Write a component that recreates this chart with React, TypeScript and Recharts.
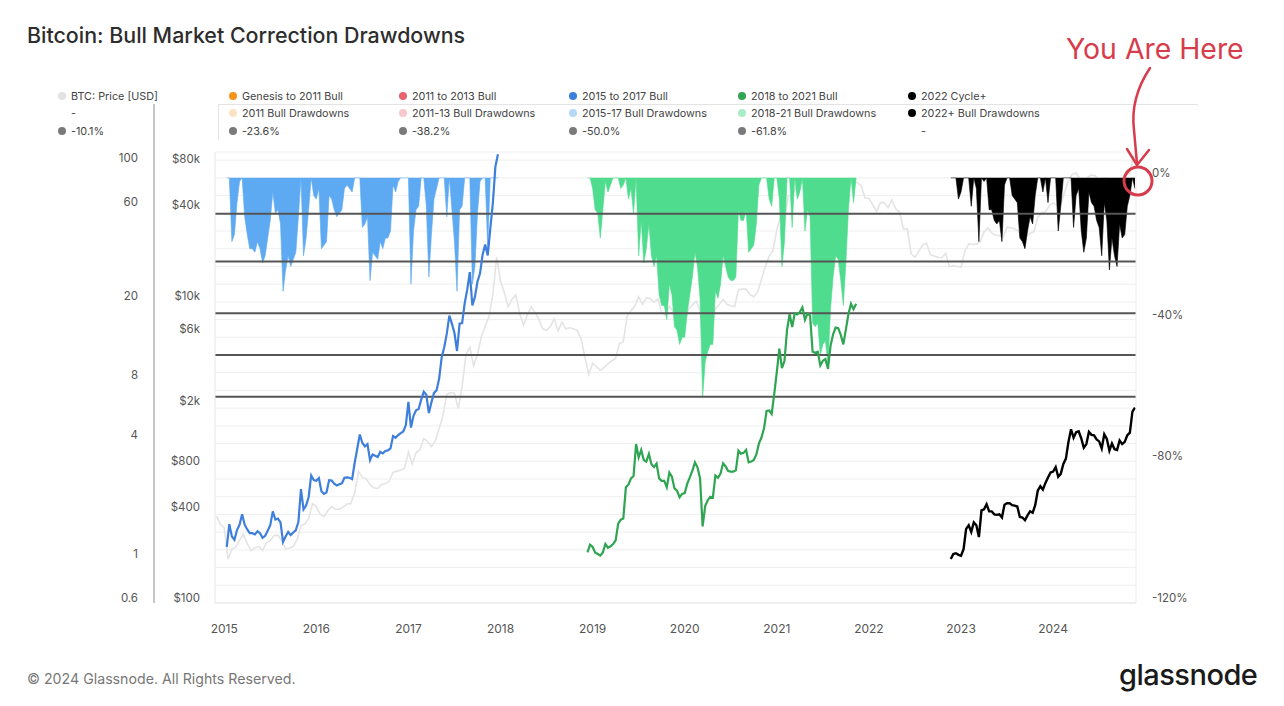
import React from 'react';
import { ComposedChart, Line, Area, XAxis, YAxis, ReferenceLine, CartesianGrid } from 'recharts';

// cycle series are sampled on the 1st / 11th / 21st of each month, price on the 1st / 16th
const STEP = 1 / 36;
const PRICE_STEP = 1 / 24;

const yearTicks = [2015, 2016, 2017, 2018, 2019, 2020, 2021, 2022, 2023, 2024];
const multTicks = [0.6, 1, 4, 8, 20, 60, 100];
const priceTicks = [100, 400, 800, 2000, 6000, 10000, 40000, 80000];
const ddLabels = [0, -40, -80, -120];
const fibLevels = [-10.1, -23.6, -38.2, -50.0, -61.8];
const gridLevels = [5, 0, -5, -10, -15, -20, -25, -30, -35, -40, -45, -50, -55, -60, -65, -70, -75, -80, -85, -90, -95, -100, -105, -110, -115, -120];

// BTC price, USD (Dec 2014 -> Nov 2024)
const priceStart = 2014 + 11 / 12;
const btcPrice = [
  375, 330,
  315, 195, 227, 234, 260, 285, 247, 222, 232, 237, 223, 250, 258, 279, 281, 257, 228, 230, 237, 262, 325, 332, 362, 454,
  434, 387, 372, 407, 435, 416, 417, 430, 452, 454, 536, 740, 677, 664, 606, 578, 572, 608, 615, 640, 730, 745, 756, 780,
  998, 830, 985, 1035, 1222, 1170, 1080, 1180, 1420, 1730, 2400, 2460, 2430, 1930, 2720, 4380, 4900, 3700, 4400, 5750, 6750, 7850, 10900, 19400,
  13400, 11300, 9100, 10200, 10900, 8200, 6850, 8050, 9100, 8350, 7500, 6500, 6350, 6750, 7600, 6300, 7200, 6500, 6600, 6500, 6350, 5600, 4200, 3250,
  3850, 3650, 3450, 3620, 3820, 4000, 4150, 5200, 5350, 7900, 8550, 9200, 10600, 9450, 10400, 10300, 9750, 10250, 8300, 8000, 9150, 8500, 7400, 6900,
  7200, 8750, 9350, 9900, 8600, 5000, 6600, 7100, 8850, 9400, 10200, 9450, 9230, 9130, 11800, 11900, 11900, 10950, 10600, 11350, 13800, 16700, 19700, 21300,
  29400, 36000, 33500, 49200, 49600, 56000, 59000, 61300, 57800, 46400, 36700, 38100, 33500, 31800, 39800, 45900, 48800, 47800, 48100, 60900, 61000, 60100, 57200, 47600,
  47300, 43100, 38700, 44500, 44400, 41100, 46300, 40400, 38500, 29800, 29800, 20400, 19300, 21200, 23300, 23900, 20100, 19700, 19300, 19200, 20500, 16700, 17000, 16800,
  16600, 21100, 23700, 23500, 23600, 24400, 28400, 30300, 28000, 27000, 26800, 26300, 30600, 30300, 29700, 28700, 25900, 26600, 27900, 28500, 35400, 37900, 38700, 42300,
  44200, 42600, 43100, 52100, 62400, 68400, 69700, 63400, 58300, 65200, 67700, 66600, 62700, 64800, 64600, 58900, 57300, 58200, 60800, 67600, 69500, 91000,
];

// 2015 to 2017 bull: price multiple from cycle low, drawdown %
const blueStart = 2015 + 1 / 36;
const blueMult = [
  1.15, 1.50, 1.30, 1.25, 1.40, 1.49, 1.68, 1.49, 1.41, 1.35, 1.35, 1.33, 1.38, 1.35, 1.28, 1.31, 1.39, 1.48, 1.74, 1.58, 1.60, 1.53, 1.22, 1.30, 1.37, 1.32, 1.36, 1.40, 1.54, 2.25, 1.78, 1.86, 2.05, 2.64, 2.50,
  2.48, 2.56, 2.20, 2.13, 2.17, 2.50, 2.49, 2.40, 2.35, 2.38, 2.41, 2.57, 2.58, 2.57, 2.53, 3.06, 3.60, 4.25, 3.85, 3.70, 3.80, 3.15, 3.37, 3.32, 3.27, 3.47, 3.41, 3.51, 3.53, 3.61, 4.17, 4.09, 4.22, 4.32, 4.40, 4.74,
  6.20, 4.60, 5.28, 5.63, 5.71, 6.37, 6.98, 6.74, 5.45, 6.17, 6.89, 7.09, 8.11, 10.4, 11.7, 13.7, 16.9, 15.4, 13.8, 11.2, 15.4, 15.5, 19.5, 22.9, 28.0, 19.0, 21.0, 25.1, 27.6, 34.3, 38.6, 34.0, 46.3, 62.3, 95.4, 110,
];
const blueDd = [
  0, 0, -18, -16, -7, -1, 0, -11, -16, -20, -20, -21, -18, -20, -24, -22, -17, -12, -4, -10, -9, -13, -32, -26, -22, -25, -23, -21, -11, 0, -22, -17, -9, 0, -5,
  -6, -3, -20, -19, -18, -5, -6, -9, -11, -10, -9, -3, -2, -3, -4, 0, 0, 0, -14, -13, -11, -29, -21, -22, -23, -18, -20, -17, -17, -15, -2, -4, -1, 0, 0, 0,
  0, -30, -15, -9, -8, 0, 0, -8, -28, -16, -6, -3, 0, 0, 0, -11, 0, -9, -18, -32, -9, -8, 0, 0, 0, -30, -25, -10, -1, 0, 0, -20, 0, 0, 0, 0,
];

// 2018 to 2021 bull
const greenStart = 2018 + 11 / 12 + 1 / 36;
const greenMult = [
  1.08, 1.18,
  1.15, 1.08, 1.06, 1.04, 1.08, 1.19, 1.14, 1.16, 1.19, 1.24, 1.51, 1.58, 1.60, 2.30, 2.37, 2.55, 2.62, 3.80, 3.25, 3.55, 3.16, 3.10, 3.39, 3.01, 2.91, 3.03, 2.55, 2.48, 2.48, 2.30, 2.73, 2.60, 2.27, 2.21, 2.05, 2.13,
  2.15, 2.40, 2.58, 2.79, 3.07, 2.90, 2.55, 1.46, 1.85, 1.98, 2.06, 2.04, 2.64, 2.57, 2.70, 3.04, 2.93, 2.78, 2.76, 2.76, 2.80, 3.52, 3.40, 3.43, 3.55, 3.07, 3.10, 3.16, 3.37, 3.82, 4.10, 4.57, 5.58, 5.61, 5.39, 6.81,
  8.78, 11.5, 9.19, 10.0, 14.3, 17.2, 14.8, 17.3, 17.1, 17.6, 18.6, 16.1, 17.3, 16.9, 11.1, 10.96, 11.1, 9.46, 10.0, 10.2, 9.10, 11.9, 13.6, 14.7, 14.6, 13.5, 12.1, 14.4, 17.2, 19.4, 18.2, 19.4,
];
const greenDd = [
  0, 0,
  -3, -9, -10, -17, -9, -1, -4, -2, 0, 0, 0, -3, -2, 0, -6, -3, -10, 0, -22, -12, -24, -20, -13, -22, -25, -22, -33, -36, -36, -40, -30, -33, -42, -43, -47, -45,
  -45, -38, -33, -28, -21, -25, -34, -62, -52, -49, -47, -47, -32, -34, -30, -22, -25, -28, -29, -29, -28, -9, -12, -12, -9, -21, -20, -19, -13, -2, 0, 0, 0, -6, -8, 0,
  0, -6, -25, -18, 0, 0, -14, 0, -6, -4, 0, -15, -9, -11, -41, -42, -41, -50, -47, -46, -53, -37, -28, -22, -23, -29, -36, -24, -9, 0, -7, 0,
];

// 2022 cycle+
const blackStart = 2022 + 10 / 12 + 2 / 36;
const blackMult = [
  1.00, 1.06, 1.07, 1.05,
  1.04, 1.12, 1.42, 1.48, 1.37, 1.53, 1.48, 1.29, 1.76, 1.78, 1.89, 1.74, 1.74, 1.68, 1.67, 1.68, 1.62, 1.88, 1.91, 1.91, 1.87, 1.86, 1.84, 1.63, 1.62, 1.57, 1.66, 1.74, 1.71, 1.87, 2.21, 2.33, 2.24, 2.42, 2.58, 2.73,
  2.76, 2.91, 2.60, 2.69, 3.02, 3.21, 3.90, 4.51, 4.09, 4.36, 4.41, 4.06, 3.64, 3.80, 4.38, 4.23, 4.21, 4.01, 3.92, 3.61, 4.26, 4.04, 3.52, 3.83, 3.58, 3.55, 3.96, 3.80, 3.90, 4.21, 4.34, 5.54, 5.80,
];
const blackDd = [
  0, 0, 0, -6,
  -4, 0, 0, 0, -8, 0, -3, -18, 0, -1, 0, -9, -9, -12, -13, -12, -18, -2, 0, 0, -5, -6, -7, -17, -18, -20, -15, -11, -13, -5, 0, 0, -4, 0, -7, 0,
  0, 0, -15, -8, 0, 0, 0, 0, -14, -5, -3, -15, -21, -17, -4, -7, -8, -12, -14, -22, -7, -12, -26, -17, -22, -25, -13, -17, -16, -8, -5, 0, -3,
];

const legendItems = [
  ['BTC: Price [USD]', 'Genesis to 2011 Bull', '2011 to 2013 Bull', '2015 to 2017 Bull', '2018 to 2021 Bull', '2022 Cycle+'],
  ['-', '2011 Bull Drawdowns', '2011-13 Bull Drawdowns', '2015-17 Bull Drawdowns', '2018-21 Bull Drawdowns', '2022+ Bull Drawdowns'],
  ['-10.1%', '-23.6%', '-38.2%', '-50.0%', '-61.8%', '-'],
];
const legendColors = [
  ['#e2e2e2', '#f7931a', '#e8636b', '#3e7fdc', '#2fa552', '#000'],
  [null, '#fde3c6', '#f7c9cd', '#b5d8f6', '#a9ecc6', '#000'],
  ['#7a7a7a', '#7a7a7a', '#7a7a7a', '#7a7a7a', '#7a7a7a', null],
];
const legendX = [62, 233, 403, 573, 742, 912];
const legendY = [96, 113, 131];

const rows = (start: number, step: number, values: number[]) =>
  values.map((v, i) => ({ t: start + i * step, v }));

const fmtPrice = (v: number) => (v >= 1000 ? `$${v / 1000}k` : `$${v}`);
const font = 'Inter, "Open Sans", sans-serif';

const sideTick = (anchor: 'start' | 'end', fmt: (v: number) => string, show?: number[]) => (p: any) =>
  show && !show.includes(p.payload.value) ? (
    <g />
  ) : (
    <text x={p.x} y={p.y - 5} dy="0.35em" textAnchor={anchor} fontSize={11.5} fill="#555" fontFamily={font}>
      {fmt(p.payload.value)}
    </text>
  );

const yearTick = (p: any) => (
  <text x={p.x} y={p.y} dy="0.71em" textAnchor="middle" fontSize={12} fill="#555" fontFamily={font}>
    {p.payload.value}
  </text>
);

export default function App() {
  return (
    <div style={{ position: 'absolute', left: 0, top: 0, width: 1284, height: 706, background: '#fff', fontFamily: font, overflow: 'hidden' }}>
      <div style={{ position: 'absolute', left: 27, top: 22, fontSize: 21.4, lineHeight: '26px', fontWeight: 500, color: '#2d2d2d' }}>
        Bitcoin: Bull Market Correction Drawdowns
      </div>

      {/* legend */}
      <div style={{ position: 'absolute', left: 218, top: 104, width: 980, height: 1, background: '#e4e4e4' }} />
      <div style={{ position: 'absolute', left: 218, top: 104, width: 1, height: 36, background: '#e4e4e4' }} />
      {legendItems.map((row, r) =>
        row.map((label, c) => {
          const color = legendColors[r][c];
          return (
            <div key={`${r}-${c}`} style={{ position: 'absolute', left: legendX[c] - 4, top: legendY[r] - 7, height: 14, display: 'flex', alignItems: 'center', fontSize: 10.8, color: '#444', whiteSpace: 'nowrap' }}>
              <span style={{ width: 8, height: 8, borderRadius: 4, background: color || 'transparent', marginRight: 5, flex: 'none' }} />
              {label}
            </div>
          );
        })
      )}

      {/* left multiple-axis rule */}
      <div style={{ position: 'absolute', left: 153, top: 104, width: 2, height: 499, background: '#c6c6c6' }} />

      <div style={{ position: 'absolute', left: 0, top: 0 }}>
        <ComposedChart width={1284} height={706} margin={{ top: 152, right: 0, bottom: 63, left: 0 }}>
          <CartesianGrid yAxisId="dd" vertical={false} stroke="#efefef" />
          <XAxis
            type="number"
            dataKey="t"
            domain={[2014.9, 2024.9]}
            allowDataOverflow
            ticks={yearTicks}
            height={40}
            tickSize={0}
            tickMargin={21}
            tick={yearTick}
            axisLine={{ stroke: '#e6e6e6' }}
            tickLine={false}
          />
          <YAxis
            yAxisId="aPrice"
            orientation="left"
            scale="log"
            type="number"
            domain={[100, 96000]}
            allowDataOverflow
            ticks={priceTicks}
            width={61}
            tickSize={0}
            tickMargin={15}
            tick={sideTick('end', fmtPrice)}
            axisLine={{ stroke: '#e6e6e6' }}
            tickLine={false}
          />
          <YAxis
            yAxisId="mult"
            orientation="left"
            scale="log"
            type="number"
            domain={[0.6, 113]}
            allowDataOverflow
            ticks={multTicks}
            width={154}
            tickSize={0}
            tickMargin={16}
            tick={sideTick('end', (v) => String(v))}
            axisLine={false}
            tickLine={false}
          />
          <YAxis
            yAxisId="dd"
            orientation="right"
            type="number"
            domain={[-120, 7.3]}
            allowDataOverflow
            ticks={gridLevels}
            interval={0}
            width={148}
            tickSize={0}
            tickMargin={16}
            tick={sideTick('start', (v) => `${v}%`, ddLabels)}
            axisLine={{ stroke: '#ececec' }}
            tickLine={false}
          />

          <Area
            yAxisId="aPrice"
            data={rows(priceStart, PRICE_STEP, btcPrice)}
            dataKey="v"
            type="linear"
            stroke="#e4e4e4"
            strokeWidth={1.6}
            fill="none"
            isAnimationActive={false}
          />

          <Area yAxisId="dd" data={rows(blueStart, STEP, blueDd)} dataKey="v" type="linear" baseValue={0}
            stroke="#5eaaf2" strokeWidth={0.6} fill="#5eaaf2" fillOpacity={1} isAnimationActive={false} />
          <Area yAxisId="dd" data={rows(greenStart, STEP, greenDd)} dataKey="v" type="linear" baseValue={0}
            stroke="#4fdc8e" strokeWidth={0.6} fill="#4fdc8e" fillOpacity={1} isAnimationActive={false} />
          <Area yAxisId="dd" data={rows(blackStart, STEP, blackDd)} dataKey="v" type="linear" baseValue={0}
            stroke="#000" strokeWidth={0.6} fill="#000" fillOpacity={1} isAnimationActive={false} />

          {fibLevels.map((f) => (
            <ReferenceLine key={`f${f}`} yAxisId="dd" y={f} stroke="#555" strokeWidth={2} />
          ))}

          <Line yAxisId="mult" data={rows(blueStart, STEP, blueMult)} dataKey="v" type="linear"
            stroke="#3e7fdc" strokeWidth={2.2} dot={false} isAnimationActive={false} />
          <Line yAxisId="mult" data={rows(greenStart, STEP, greenMult)} dataKey="v" type="linear"
            stroke="#2fa552" strokeWidth={2.2} dot={false} isAnimationActive={false} />
          <Line yAxisId="mult" data={rows(blackStart, STEP, blackMult)} dataKey="v" type="linear"
            stroke="#000" strokeWidth={2.4} dot={false} isAnimationActive={false} />
        </ComposedChart>
      </div>

      {/* annotation */}
      <svg width={1284} height={706} style={{ position: 'absolute', left: 0, top: 0, pointerEvents: 'none' }}>
        <text x={1066} y={59} fill="#d63c4b" fontSize={28.4} fontFamily={font}>You Are Here</text>
        <path d="M1150 68 Q1130 98 1134 130 L1137 164" stroke="#d63c4b" strokeWidth={2.5} fill="none" strokeLinecap="round" />
        <path d="M1127 149 L1137 165 L1149 150" stroke="#d63c4b" strokeWidth={2.5} fill="none" strokeLinecap="round" strokeLinejoin="round" />
        <circle cx={1138} cy={181} r={14} stroke="#d63c4b" strokeWidth={3} fill="none" />
      </svg>

      <div style={{ position: 'absolute', left: 27, top: 671, fontSize: 14.2, lineHeight: '16px', color: '#777' }}>
        © 2024 Glassnode. All Rights Reserved.
      </div>
      <div style={{ position: 'absolute', left: 1119, top: 659, fontSize: 29, lineHeight: '32px', fontWeight: 500, color: '#1a1a1a', letterSpacing: -0.5 }}>
        glassnode
      </div>
    </div>
  );
}
